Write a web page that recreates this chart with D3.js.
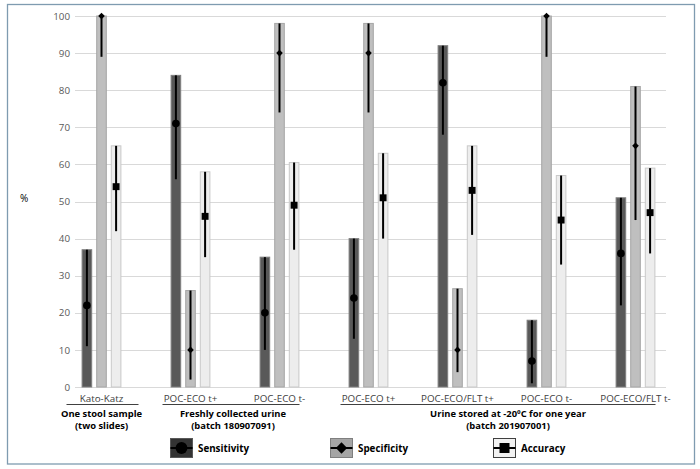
<!DOCTYPE html>
<html><head><meta charset="utf-8">
<script src="https://cdn.jsdelivr.net/npm/d3@7"></script>
<style>
html,body{margin:0;padding:0;background:#fff;}
svg{display:block;font-family:"Open Sans",sans-serif;}
</style></head>
<body><svg id="c" width="700" height="469"></svg>
<script>
const categories = ["Kato-Katz","POC-ECO t+","POC-ECO t-","POC-ECO t+","POC-ECO/FLT t+","POC-ECO t-","POC-ECO/FLT t-"];
const seriesNames = ["Sensitivity","Specificity","Accuracy"];
const sensitivity = [22,71,20,24,82,7,36];
const sensLow     = [11,56,10,13,68,1,22];
const sensHigh    = [37,84,35,40,92,18,51];
const specificity = [100,10,90,90,10,100,65];
const specLow     = [89,2,74,74,4,89,45];
const specHigh    = [100,26,98,98,26.5,100,81];
const accuracy    = [54,46,49,51,53,45,47];
const accLow      = [42,35,37,40,41,33,36];
const accHigh     = [65,58,60.5,63,65,57,59];
const yTicks = [0,10,20,30,40,50,60,70,80,90,100];
const groupLabels = [["One stool sample","(two slides)"],["Freshly collected urine","(batch 180907091)"],["Urine stored at -20ºC for one year","(batch 201907001)"]];
const groupFirst = [0,1,3];
const groupLast  = [0,2,6];

const svg = d3.select("#c");
const styles = {
  Sensitivity:{fill:"#595959",stroke:"#7f7f7f",legFill:"#333333",legStroke:"#595959",marker:"circle"},
  Specificity:{fill:"#bfbfbf",stroke:"#a6a6a6",legFill:"#a5a5a5",legStroke:"#7f7f7f",marker:"diamond"},
  Accuracy:{fill:"#ededed",stroke:"#c9c9c9",legFill:"#f2f2f2",legStroke:"#404040",marker:"square"}
};
const seriesData = {
  Sensitivity:{v:sensitivity,lo:sensLow,hi:sensHigh},
  Specificity:{v:specificity,lo:specLow,hi:specHigh},
  Accuracy:{v:accuracy,lo:accLow,hi:accHigh}
};

// frame
svg.append("rect").attr("x",7.5).attr("y",4.5).attr("width",687).attr("height",459.5)
  .attr("fill","#fff").attr("stroke","#7f9bb0").attr("stroke-width",1.3);

const y = d3.scaleLinear().domain([0,100]).range([387,16]);
const x = d3.scaleBand().domain(d3.range(categories.length)).range([57,680]);
const off = d3.scalePoint().domain(seriesNames).range([-14.6,14.6]);
const bw = 9.6;
const cx = i => x(i) + x.bandwidth()/2;

// gridlines
svg.append("g").selectAll("line").data(yTicks).join("line")
  .attr("x1",75).attr("x2",666).attr("y1",d=>Math.round(y(d))+0.5).attr("y2",d=>Math.round(y(d))+0.5)
  .attr("stroke","#d9d9d9").attr("stroke-width",1);

// y axis labels via d3 axis
const yAxis = d3.axisLeft(y).tickValues(yTicks).tickSize(0).tickPadding(0);
const ga = svg.append("g").attr("transform","translate(70,0)").call(yAxis);
ga.select(".domain").remove();
ga.selectAll("text").attr("font-size","9.8px").attr("fill","#595959").attr("font-family","Open Sans, sans-serif");

svg.append("text").attr("x",20).attr("y",202).attr("font-size","10px").attr("fill","#000").text("%");

// bars, error bars, markers
seriesNames.forEach(s => {
  const st = styles[s], d = seriesData[s];
  const g = svg.append("g");
  const idx = d3.range(categories.length);
  g.selectAll("rect").data(idx).join("rect")
    .attr("x",i=>cx(i)+off(s)-bw/2).attr("width",bw)
    .attr("y",i=>y(d.hi[i])).attr("height",i=>y(0)-y(d.hi[i]))
    .attr("fill",st.fill).attr("stroke",st.stroke).attr("stroke-width",1);
  g.selectAll("line").data(idx).join("line")
    .attr("x1",i=>cx(i)+off(s)).attr("x2",i=>cx(i)+off(s))
    .attr("y1",i=>y(d.lo[i])).attr("y2",i=>y(d.hi[i]))
    .attr("stroke","#000").attr("stroke-width",2);
  const sym = st.marker==="circle"? d3.symbolCircle : d3.symbolSquare;
  const size = st.marker==="circle"? 46 : st.marker==="diamond"? 22 : 48;
  const rot = st.marker==="diamond"? 45 : 0;
  g.selectAll("path").data(idx).join("path")
    .attr("d",d3.symbol().type(sym).size(size))
    .attr("transform",i=>`translate(${cx(i)+off(s)},${y(d.v[i])}) rotate(${rot})`)
    .attr("fill","#000");
});

// category labels
svg.append("g").selectAll("text").data(d3.range(categories.length)).join("text")
  .attr("x",i=>cx(i)).attr("y",402).attr("text-anchor","middle")
  .attr("font-size","9.8px").attr("fill","#404040").text(i=>categories[i]);

// group lines and labels
groupLabels.forEach((lab,k) => {
  const a = cx(groupFirst[k]), b = cx(groupLast[k]);
  const single = groupFirst[k]===groupLast[k];
  const x1 = single ? a-35 : a-28, x2 = single ? b+37 : b+20;
  svg.append("line").attr("x1",x1).attr("x2",x2).attr("y1",404.5).attr("y2",404.5)
    .attr("stroke","#404040").attr("stroke-width",1.2);
  const mid = single ? a : (a+b)/2 + (k===2?6:-2);
  lab.forEach((t,j) => {
    svg.append("text").attr("x",mid).attr("y",416.5+j*12.5).attr("text-anchor","middle")
      .attr("font-size","9.4px").attr("font-weight","bold").attr("fill","#000").text(t);
  });
});

// legend
const legX = [170,330,493];
seriesNames.forEach((s,i) => {
  const st = styles[s];
  const g = svg.append("g").attr("transform",`translate(${legX[i]},438)`);
  g.append("rect").attr("x",0.5).attr("y",0.5).attr("width",22).attr("height",19)
    .attr("fill",st.legFill).attr("stroke",st.legStroke).attr("stroke-width",1);
  g.append("line").attr("x1",0.5).attr("x2",22.5).attr("y1",10).attr("y2",10).attr("stroke","#000").attr("stroke-width",2);
  const sym = st.marker==="circle"? d3.symbolCircle : d3.symbolSquare;
  const size = st.marker==="circle"? 110 : st.marker==="diamond"? 64 : 100;
  const rot = st.marker==="diamond"? 45 : 0;
  g.append("path").attr("d",d3.symbol().type(sym).size(size))
    .attr("transform",`translate(11.5,10) rotate(${rot})`).attr("fill","#000");
  g.append("text").attr("x",28).attr("y",13.5).attr("font-size","9.8px").attr("font-weight","bold")
    .attr("fill","#000").text(s);
});
</script>
</body></html>
